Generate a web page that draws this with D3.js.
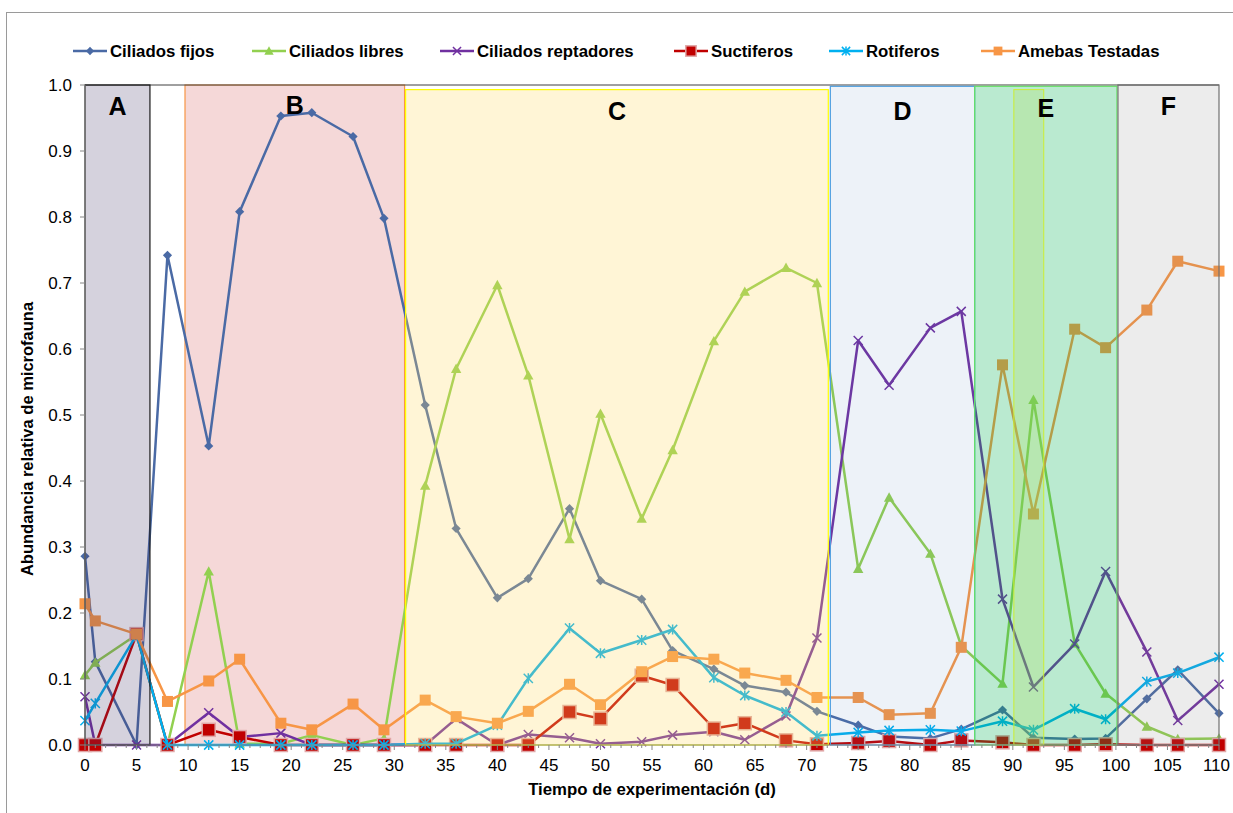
<!DOCTYPE html>
<html>
<head>
<meta charset="utf-8">
<script src="https://cdn.jsdelivr.net/npm/d3@7"></script>
<style>
  body { margin: 0; background: #fff; }
  text { font-family: "Liberation Sans", Arial, sans-serif; }
</style>
</head>
<body>
<div id="chart"></div>
<script>
// Days sampled
const days = [0,1,5,8,12,15,19,22,26,29,33,36,40,43,47,50,54,57,61,64,68,71,75,78,82,85,89,92,96,99,103,106,110];

// Relative abundance per group
const ciliadosFijos = [0.286,0.126,0,0.742,0.453,0.808,0.953,0.958,0.922,0.798,0.515,0.328,0.223,0.252,0.358,0.249,0.221,0.143,0.115,0.090,0.080,0.051,0.030,0.013,0.010,0.024,0.053,0.011,0.009,0.010,0.070,0.114,0.048];
const ciliadosLibres = [0.106,0.125,0.167,0,0.263,0.002,0.002,0.015,0,0.010,0.393,0.570,0.697,0.560,0.312,0.502,0.343,0.447,0.612,0.687,0.723,0.700,0.267,0.375,0.290,0.150,0.093,0.523,0.154,0.078,0.028,0.009,0.010];
const ciliadosReptadores = [0.073,0,0,0,0.049,0.012,0.018,0,0,0,0,0.040,0,0.016,0.011,0.002,0.005,0.015,0.020,0.008,0.044,0.162,0.613,0.545,0.632,0.657,0.221,0.088,0.153,0.263,0.141,0.037,0.092];
const suctiferos = [0,0,0.168,0,0.023,0.012,0,0,0,0,0,0,0,0,0.050,0.040,0.105,0.091,0.025,0.033,0.007,0.001,0.003,0.006,0,0.007,0.004,0,0,0.001,0,0,0];
const rotiferos = [0.037,0.063,0.167,0,0,0,0,0,0,0,0.002,0.002,0.030,0.101,0.177,0.139,0.159,0.175,0.102,0.075,0.050,0.014,0.019,0.022,0.023,0.021,0.036,0.023,0.055,0.039,0.096,0.109,0.133];
const amebasTestadas = [0.214,0.188,0.168,0.066,0.097,0.130,0.033,0.023,0.062,0.023,0.068,0.043,0.033,0.051,0.092,0.061,0.111,0.134,0.130,0.109,0.098,0.072,0.072,0.046,0.048,0.148,0.576,0.350,0.630,0.602,0.659,0.733,0.718];

const seriesNames = ["Ciliados fijos", "Ciliados libres", "Ciliados reptadores", "Suctiferos", "Rotiferos", "Amebas Testadas"];

// Phases (day ranges)
const phaseLabels = ["A", "B", "C", "D", "E", "F"];
const phaseStart = [0, 9.7, 31.1, 72.3, 86.3, 100.2];
const phaseEnd = [6.3, 31.0, 72.1, 86.3, 100.1, 110];
const phaseTop = [1.0, 1.0, 0.993, 0.998, 0.998, 1.0];
// narrow sub-band inside E
const subBandStart = 90.1, subBandEnd = 93.0, subBandTop = 0.993;

const xTicks = d3.range(0, 111, 5);
const yTicks = d3.range(0, 11).map(d => d / 10);

const width = 1233, height = 813;
const margin = { top: 85, right: 14, bottom: 68, left: 85 };

const svg = d3.select("#chart").append("svg")
    .attr("width", width)
    .attr("height", height);

// outer chart frame
svg.append("rect")
    .attr("x", 6.5).attr("y", 12.5)
    .attr("width", width + 20).attr("height", height + 20)
    .attr("fill", "none")
    .attr("stroke", "#9a9a9a");

const x = d3.scaleLinear().domain([0, 110]).range([margin.left, width - margin.right]);
const y = d3.scaleLinear().domain([0, 1]).range([height - margin.bottom, margin.top]);

const styles = [
    { color: "#4a6aa5", marker: "diamond", size: 4.6 },
    { color: "#92d050", marker: "triangle", size: 5.2 },
    { color: "#7030a0", marker: "x", size: 4.5 },
    { color: "#c00000", marker: "square", size: 6.5, stroke: "#e0a8a8" },
    { color: "#00b0f0", marker: "star", size: 4.6 },
    { color: "#f79646", marker: "square", size: 5.5 }
];
const seriesData = [ciliadosFijos, ciliadosLibres, ciliadosReptadores, suctiferos, rotiferos, amebasTestadas];

function drawMarker(g, st, cx, cy, scale) {
    const s = st.size * (scale || 1);
    if (st.marker === "diamond") {
        g.append("path").attr("d", `M${cx},${cy - s}L${cx + s},${cy}L${cx},${cy + s}L${cx - s},${cy}Z`)
            .attr("fill", st.color);
    } else if (st.marker === "triangle") {
        g.append("path").attr("d", `M${cx},${cy - s}L${cx + s},${cy + s * 0.8}L${cx - s},${cy + s * 0.8}Z`)
            .attr("fill", st.color);
    } else if (st.marker === "square") {
        g.append("rect").attr("x", cx - s).attr("y", cy - s)
            .attr("width", 2 * s).attr("height", 2 * s)
            .attr("fill", st.color)
            .attr("stroke", st.stroke || "none")
            .attr("stroke-width", st.stroke ? 1.5 : 0);
    } else if (st.marker === "x") {
        g.append("path").attr("d", `M${cx - s},${cy - s}L${cx + s},${cy + s}M${cx - s},${cy + s}L${cx + s},${cy - s}`)
            .attr("stroke", st.color).attr("stroke-width", 1.5).attr("fill", "none");
    } else if (st.marker === "star") {
        g.append("path").attr("d", `M${cx - s},${cy - s}L${cx + s},${cy + s}M${cx - s},${cy + s}L${cx + s},${cy - s}M${cx},${cy - s * 1.1}L${cx},${cy + s * 1.1}`)
            .attr("stroke", st.color).attr("stroke-width", 1.5).attr("fill", "none");
    }
}

// phase colours; B sits behind the lines, the rest are laid over them
const phaseFill = ["#403164", "#e9a8a8", "#ffd966", "#4f81bd", "#00b050", "#808080"];
const phaseAlpha = [0.22, 0.45, 0.27, 0.1, 0.27, 0.15];
const phaseStroke = ["#1a1a1a", "#f79646", "#ffff00", "#4f9fe0", "#66e066", "#707070"];
const phaseBehind = [false, true, false, false, false, false];

function drawPhase(g, i) {
    g.append("rect")
        .attr("x", x(phaseStart[i]))
        .attr("y", y(phaseTop[i]))
        .attr("width", x(phaseEnd[i]) - x(phaseStart[i]))
        .attr("height", y(0) - y(phaseTop[i]))
        .attr("fill", phaseFill[i])
        .attr("fill-opacity", phaseAlpha[i])
        .attr("stroke", phaseStroke[i])
        .attr("stroke-width", 1.2);
}

const under = svg.append("g");
phaseLabels.forEach((lab, i) => { if (phaseBehind[i]) drawPhase(under, i); });

// plot area top border
svg.append("line")
    .attr("x1", x(0)).attr("x2", x(110))
    .attr("y1", y(1)).attr("y2", y(1))
    .attr("stroke", "#404040").attr("stroke-width", 1);

// series lines and markers
const line = d3.line().x(d => x(d[0])).y(d => y(d[1]));
seriesData.forEach((vals, i) => {
    const st = styles[i];
    const pts = days.map((d, j) => [d, vals[j]]);
    const g = svg.append("g");
    g.append("path")
        .datum(pts)
        .attr("fill", "none")
        .attr("stroke", st.color)
        .attr("stroke-width", 2.5)
        .attr("stroke-linejoin", "round")
        .attr("d", line);
    pts.forEach(p => drawMarker(g, st, x(p[0]), y(p[1])));
});

const bands = svg.append("g");
phaseLabels.forEach((lab, i) => { if (!phaseBehind[i]) drawPhase(bands, i); });
bands.append("rect")
    .attr("x", x(subBandStart))
    .attr("y", y(subBandTop))
    .attr("width", x(subBandEnd) - x(subBandStart))
    .attr("height", y(0) - y(subBandTop))
    .attr("fill", "#b0e060")
    .attr("fill-opacity", 0.28)
    .attr("stroke", "#ccee33")
    .attr("stroke-width", 1);

const labelBase = [115, 114, 120, 120, 117, 115];
phaseLabels.forEach((lab, i) => {
    svg.append("text")
        .attr("x", (x(phaseStart[i]) + x(phaseEnd[i])) / 2)
        .attr("y", labelBase[i])
        .attr("text-anchor", "middle")
        .style("font-size", "25px")
        .style("font-weight", "bold")
        .text(lab);
});

// x axis
const xAxis = svg.append("g");
xAxis.append("line")
    .attr("x1", x(0)).attr("x2", x(110))
    .attr("y1", y(0)).attr("y2", y(0))
    .attr("stroke", "#868686");
d3.range(0, 111, 1).forEach(t => {
    xAxis.append("line")
        .attr("x1", x(t)).attr("x2", x(t))
        .attr("y1", y(0)).attr("y2", y(0) + (t % 5 === 0 ? 5 : 3))
        .attr("stroke", "#868686");
});
xTicks.forEach(t => {
    xAxis.append("text")
        .attr("x", t === 110 ? x(t) + 11 : x(t))
        .attr("y", y(0) + 26)
        .attr("text-anchor", t === 110 ? "end" : "middle")
        .style("font-size", "17px")
        .text(t);
});
svg.append("text")
    .attr("x", 652)
    .attr("y", 795)
    .attr("text-anchor", "middle")
    .style("font-size", "16.8px")
    .style("font-weight", "bold")
    .text("Tiempo de experimentación (d)");

// y axis
const yAxis = svg.append("g");
yAxis.append("line")
    .attr("x1", x(0)).attr("x2", x(0))
    .attr("y1", y(0)).attr("y2", y(1))
    .attr("stroke", "#868686");
yTicks.forEach(t => {
    yAxis.append("line")
        .attr("x1", x(0) - 5).attr("x2", x(0))
        .attr("y1", y(t)).attr("y2", y(t))
        .attr("stroke", "#868686");
    yAxis.append("text")
        .attr("x", x(0) - 13)
        .attr("y", y(t) + 6)
        .attr("text-anchor", "end")
        .style("font-size", "17px")
        .text(t.toFixed(1));
});
svg.append("text")
    .attr("transform", "translate(33,439) rotate(-90)")
    .attr("text-anchor", "middle")
    .style("font-size", "16.5px")
    .style("font-weight", "bold")
    .text("Abundancia relativa de microfauna");

// legend
const legendX = [73, 252, 440, 674, 829, 981];
const legend = svg.append("g");
seriesNames.forEach((name, i) => {
    const st = styles[i];
    const lx = legendX[i], ly = 51;
    legend.append("line")
        .attr("x1", lx).attr("x2", lx + 34)
        .attr("y1", ly).attr("y2", ly)
        .attr("stroke", st.color).attr("stroke-width", 2.5);
    drawMarker(legend, st, lx + 17, ly, st.marker === "square" ? 0.8 : 0.9);
    legend.append("text")
        .attr("x", lx + 37)
        .attr("y", ly + 6)
        .style("font-size", "16.8px")
        .style("font-weight", "bold")
        .text(name);
});
</script>
</body>
</html>
